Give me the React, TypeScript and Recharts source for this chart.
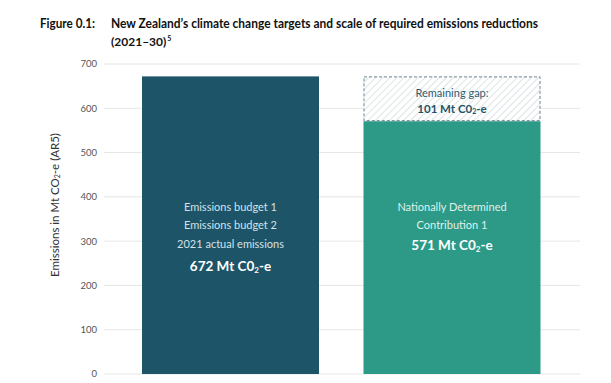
import React from "react";
import { BarChart, Bar, XAxis, YAxis, CartesianGrid } from "recharts";

const categories = ["Budgets", "NDC1"];
const emissions = [672, 571];
const gap = [0, 101];
const barColors = ["#1d5468", "#2d9a87"];
const yTicks = [0, 100, 200, 300, 400, 500, 600, 700];
const barTextLines = [
  ["Emissions budget 1", "Emissions budget 2", "2021 actual emissions"],
  ["Nationally Determined", "Contribution 1"],
];
const barValueText = ["672 Mt C0", "571 Mt C0"];
const gapText = ["Remaining gap:", "101 Mt C0"];

const data = categories.map((c, i) => ({
  name: c,
  emissions: emissions[i],
  gap: gap[i],
  idx: i,
}));

const FONT = "Lato, 'Open Sans', sans-serif";

const EmissionShape = (props: any) => {
  const { x, y, width, height, payload } = props;
  const i = payload.idx;
  const cx = x + width / 2;
  const bottom = y + height;
  const lines = barTextLines[i];
  const textColor = i === 0 ? "#d3e2e8" : "#dff1ec";
  const startY = bottom - 168;
  return (
    <g>
      <rect x={x} y={y} width={width} height={height} fill={barColors[i]} />
      {lines.map((t, k) => (
        <text
          key={k}
          x={cx}
          y={startY + k * 18.5}
          textAnchor="middle"
          dominantBaseline="central"
          fontFamily={FONT}
          fontSize={11}
          fill={textColor}
        >
          {t}
        </text>
      ))}
      <text
        x={cx}
        y={startY + lines.length * 18.5 + (i === 0 ? 4 : 2)}
        textAnchor="middle"
        dominantBaseline="central"
        fontFamily={FONT}
        fontSize={13.5}
        fontWeight={700}
        fill="#ffffff"
      >
        {barValueText[i]}
        <tspan fontSize={8} dy={4}>2</tspan>
        <tspan dy={-4}>-e</tspan>
      </text>
    </g>
  );
};

const GapShape = (props: any) => {
  const { x, y, width, height } = props;
  if (!height || height <= 0) return <g />;
  const cx = x + width / 2;
  const cy = y + height / 2;
  return (
    <g>
      <rect x={x} y={y} width={width} height={height} fill="url(#hatch)" />
      <rect
        x={x + 0.5}
        y={y + 0.5}
        width={width - 1}
        height={height - 1}
        fill="none"
        stroke="#6c8690"
        strokeWidth={1}
        strokeDasharray="3 2"
      />
      <text
        x={cx}
        y={cy - 6}
        textAnchor="middle"
        dominantBaseline="central"
        fontFamily={FONT}
        fontSize={11}
        fill="#2a5d70"
      >
        {gapText[0]}
      </text>
      <text
        x={cx}
        y={cy + 9.5}
        textAnchor="middle"
        dominantBaseline="central"
        fontFamily={FONT}
        fontSize={11.5}
        fontWeight={700}
        fill="#1d5468"
      >
        {gapText[1]}
        <tspan fontSize={7} dy={3}>2</tspan>
        <tspan dy={-3}>-e</tspan>
      </text>
    </g>
  );
};

export default function App() {
  return (
    <div
      style={{
        position: "absolute",
        left: 0,
        top: 0,
        width: 611,
        height: 383,
        background: "#ffffff",
      }}
    >
      <svg
        width={611}
        height={60}
        style={{ position: "absolute", left: 0, top: 0 }}
      >
        <text
          x={40}
          y={28}
          fontFamily={FONT}
          fontWeight={700}
          fontSize={12.5}
          fill="#111"
          textLength={55}
          lengthAdjust="spacingAndGlyphs"
        >
          Figure 0.1:
        </text>
        <text
          x={111}
          y={28}
          fontFamily={FONT}
          fontWeight={700}
          fontSize={12.5}
          fill="#111"
          textLength={427}
          lengthAdjust="spacingAndGlyphs"
        >
          New Zealand’s climate change targets and scale of required emissions reductions
        </text>
        <text
          x={111}
          y={46}
          fontFamily={FONT}
          fontWeight={700}
          fontSize={12}
          fill="#111"
        >
          (2021–30)
          <tspan fontSize={7} dx={1} dy={-5}>5</tspan>
        </text>
      </svg>
      <BarChart
        width={611}
        height={383}
        data={data}
        margin={{ top: 64, right: 31, bottom: 9, left: 0 }}
        barSize={177}
      >
        <defs>
          <pattern
            id="hatch"
            patternUnits="userSpaceOnUse"
            width={5}
            height={5}
            patternTransform="rotate(45)"
          >
            <rect width={5} height={5} fill="#ffffff" />
            <line x1={0} y1={0} x2={0} y2={5} stroke="#d5dcdf" strokeWidth={1.6} />
          </pattern>
        </defs>
        <CartesianGrid vertical={false} stroke="#e6e6e6" strokeWidth={1} />
        <XAxis
          dataKey="name"
          tick={false}
          tickLine={false}
          axisLine={{ stroke: "#9a9a9a", strokeWidth: 1.5 }}
          height={0}
          padding={{ left: 16, right: 17 }}
        />
        <YAxis
          width={104}
          domain={[0, 700]}
          ticks={yTicks}
          interval={0}
          axisLine={false}
          tickLine={false}
          tickSize={5}
          tickMargin={2}
          tick={{ fontFamily: FONT, fontSize: 9.5, fill: "#555555" }}
        />
        <Bar
          dataKey="emissions"
          stackId="a"
          isAnimationActive={false}
          shape={<EmissionShape />}
        />
        <Bar
          dataKey="gap"
          stackId="a"
          isAnimationActive={false}
          shape={<GapShape />}
        />
      </BarChart>
      <svg
        width={40}
        height={200}
        style={{ position: "absolute", left: 33, top: 105 }}
      >
        <text
          transform="translate(21,100) rotate(-90)"
          textAnchor="middle"
          dominantBaseline="central"
          fontFamily={FONT}
          fontSize={11.5}
          fill="#333333"
        >
          Emissions in Mt CO<tspan fontSize={7} dy={3}>2</tspan>
          <tspan dy={-3}>-e (AR5)</tspan>
        </text>
      </svg>
    </div>
  );
}
